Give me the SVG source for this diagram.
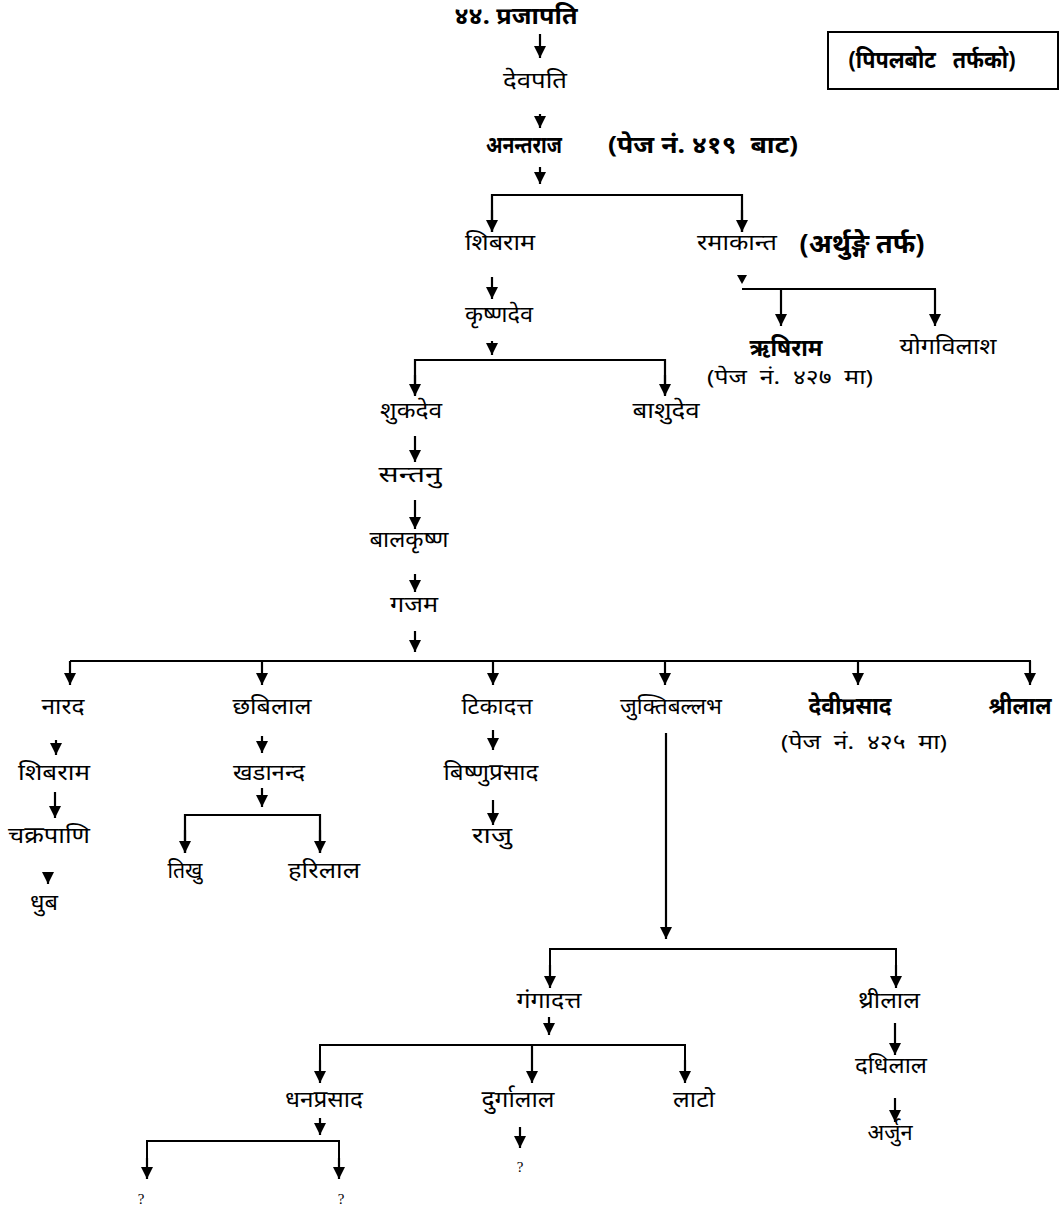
<svg xmlns="http://www.w3.org/2000/svg" width="1062" height="1210" viewBox="0 0 1062 1210">
<style>
text{font-family:"Noto Sans","Noto Sans Devanagari","Liberation Sans",sans-serif;font-size:23px;fill:#000;text-anchor:middle}
.b{font-weight:bold;font-size:24px}
.s{font-size:20px}
.q{font-size:15px;font-family:"Liberation Serif",serif}
.c line,.c path.l{stroke:#000;stroke-width:2.2;fill:none}
.h{stroke-width:2 !important}
</style>
<defs>
<marker id="ah" markerUnits="userSpaceOnUse" markerWidth="14" markerHeight="12" refX="12" refY="6" orient="auto">
<path d="M0,0 L12,6 L0,12 z" fill="#000"/>
</marker>
</defs>
<rect width="1062" height="1210" fill="#fff"/>
<g class="c" id="connectors">
<line x1="540" y1="34" x2="540" y2="58" marker-end="url(#ah)"/>
<line x1="540" y1="114" x2="540" y2="128" marker-end="url(#ah)"/>
<line x1="540" y1="167" x2="540" y2="184" marker-end="url(#ah)"/>
<path class="l" d="M492,232 V195 H742 V232" />
<line x1="492" y1="210" x2="492" y2="232" marker-end="url(#ah)"/>
<line x1="742" y1="210" x2="742" y2="232" marker-end="url(#ah)"/>
<line x1="492" y1="277" x2="492" y2="299" marker-end="url(#ah)"/>
<line x1="492" y1="341" x2="492" y2="355" marker-end="url(#ah)"/>
<path class="l" d="M415,395 V360 H665 V395"/>
<line x1="415" y1="375" x2="415" y2="396" marker-end="url(#ah)"/>
<line x1="665" y1="375" x2="665" y2="396" marker-end="url(#ah)"/>
<path d="M737,275 L747,275 L742,284 z" fill="#000"/>
<line class="h" x1="742" y1="289" x2="936" y2="289"/>
<line x1="781" y1="289" x2="781" y2="326" marker-end="url(#ah)"/>
<line x1="935" y1="289" x2="935" y2="326" marker-end="url(#ah)"/>
<line x1="415" y1="436" x2="415" y2="462" marker-end="url(#ah)"/>
<line x1="415" y1="500" x2="415" y2="529" marker-end="url(#ah)"/>
<line x1="415" y1="574" x2="415" y2="592" marker-end="url(#ah)"/>
<line x1="415" y1="631" x2="415" y2="652" marker-end="url(#ah)"/>
<line class="h" x1="70" y1="661" x2="1031" y2="661"/>
<line x1="70" y1="661" x2="70" y2="685" marker-end="url(#ah)"/>
<line x1="262" y1="661" x2="262" y2="685" marker-end="url(#ah)"/>
<line x1="493" y1="661" x2="493" y2="685" marker-end="url(#ah)"/>
<line x1="665" y1="661" x2="665" y2="685" marker-end="url(#ah)"/>
<line x1="858" y1="661" x2="858" y2="685" marker-end="url(#ah)"/>
<line x1="1030" y1="661" x2="1030" y2="685" marker-end="url(#ah)"/>
<line x1="56" y1="740" x2="56" y2="755" marker-end="url(#ah)"/>
<line x1="55" y1="792" x2="55" y2="818" marker-end="url(#ah)"/>
<line x1="48" y1="872" x2="48" y2="884" marker-end="url(#ah)"/>
<line x1="262" y1="736" x2="262" y2="753" marker-end="url(#ah)"/>
<line x1="262" y1="788" x2="262" y2="807" marker-end="url(#ah)"/>
<path class="l" d="M185,853 V815 H320 V853"/>
<line x1="185" y1="830" x2="185" y2="853" marker-end="url(#ah)"/>
<line x1="320" y1="830" x2="320" y2="853" marker-end="url(#ah)"/>
<line x1="493" y1="730" x2="493" y2="750" marker-end="url(#ah)"/>
<line x1="493" y1="800" x2="493" y2="825" marker-end="url(#ah)"/>
<line x1="666" y1="733" x2="666" y2="939" marker-end="url(#ah)"/>
<path class="l h" d="M550,987 V949 H896 V987"/>
<line x1="550" y1="965" x2="550" y2="988" marker-end="url(#ah)"/>
<line x1="896" y1="965" x2="896" y2="988" marker-end="url(#ah)"/>
<line x1="549" y1="1017" x2="549" y2="1035" marker-end="url(#ah)"/>
<path class="l h" d="M320,1082 V1045 H685 V1082"/>
<line x1="320" y1="1060" x2="320" y2="1083" marker-end="url(#ah)"/>
<line x1="532" y1="1045" x2="532" y2="1083" marker-end="url(#ah)"/>
<line x1="685" y1="1060" x2="685" y2="1083" marker-end="url(#ah)"/>
<line x1="320" y1="1118" x2="320" y2="1135" marker-end="url(#ah)"/>
<path class="l h" d="M147,1178 V1141 H339 V1178"/>
<line x1="147" y1="1158" x2="147" y2="1179" marker-end="url(#ah)"/>
<line x1="339" y1="1158" x2="339" y2="1179" marker-end="url(#ah)"/>
<line x1="520" y1="1127" x2="520" y2="1148" marker-end="url(#ah)"/>
<line x1="895" y1="1023" x2="895" y2="1055" marker-end="url(#ah)"/>
<line x1="895" y1="1098" x2="895" y2="1122" marker-end="url(#ah)"/>
</g>
<g id="n-prajapati"><text class="b" x="516" y="24" textLength="123" lengthAdjust="spacingAndGlyphs">४४. प्रजापति</text></g>
<g id="n-devpati"><text x="535" y="88" textLength="64" lengthAdjust="spacingAndGlyphs">देवपति</text></g>
<g id="n-anantaraj"><text class="b" x="524" y="153" textLength="76" lengthAdjust="spacingAndGlyphs">अनन्तराज</text><text class="b" x="703" y="153" textLength="190" lengthAdjust="spacingAndGlyphs" xml:space="preserve">(पेज नं. ४१९  बाट)</text></g>
<g id="n-note"><rect x="828" y="32" width="230" height="57" fill="none" stroke="#000" stroke-width="2"/><text class="b" x="932" y="68" textLength="167" lengthAdjust="spacingAndGlyphs" xml:space="preserve">(पिपलबोट   तर्फको)</text></g>
<g id="n-shibaram"><text x="500" y="250" textLength="70" lengthAdjust="spacingAndGlyphs">शिबराम</text></g>
<g id="n-ramakant"><text x="737" y="250" textLength="80" lengthAdjust="spacingAndGlyphs">रमाकान्त</text><text class="b" x="862" y="253" style="font-size:27px" textLength="125" lengthAdjust="spacingAndGlyphs">(अर्थुङ्गे तर्फ)</text></g>
<g id="n-krishnadev"><text x="499" y="322" textLength="68" lengthAdjust="spacingAndGlyphs">कृष्णदेव</text></g>
<g id="n-rishiram"><text class="b" x="786" y="356" textLength="73" lengthAdjust="spacingAndGlyphs">ऋषिराम</text><text class="s" x="790" y="384" textLength="166" lengthAdjust="spacingAndGlyphs" xml:space="preserve">(पेज  नं.  ४२७  मा)</text></g>
<g id="n-yogvilash"><text x="948" y="354" textLength="97" lengthAdjust="spacingAndGlyphs">योगविलाश</text></g>
<g id="n-shukdev"><text x="411" y="418" textLength="62" lengthAdjust="spacingAndGlyphs">शुकदेव</text></g>
<g id="n-bashudev"><text x="666" y="418" textLength="67" lengthAdjust="spacingAndGlyphs">बाशुदेव</text></g>
<g id="n-santanu"><text x="410" y="482" textLength="63" lengthAdjust="spacingAndGlyphs">सन्तनु</text></g>
<g id="n-balkrishna"><text x="409" y="547" textLength="79" lengthAdjust="spacingAndGlyphs">बालकृष्ण</text></g>
<g id="n-gajam"><text x="414" y="612" textLength="48" lengthAdjust="spacingAndGlyphs">गजम</text></g>
<g id="n-narad"><text x="63" y="714" textLength="43" lengthAdjust="spacingAndGlyphs">नारद</text></g>
<g id="n-chhabilal"><text x="272" y="714" textLength="79" lengthAdjust="spacingAndGlyphs">छबिलाल</text></g>
<g id="n-tikadatta"><text x="497" y="714" textLength="71" lengthAdjust="spacingAndGlyphs">टिकादत्त</text></g>
<g id="n-juktiballabh"><text x="671" y="714" textLength="102" lengthAdjust="spacingAndGlyphs">जुक्तिबल्लभ</text></g>
<g id="n-deviprasad"><text class="b" x="850" y="714" textLength="83" lengthAdjust="spacingAndGlyphs">देवीप्रसाद</text><text class="s" x="864" y="749" textLength="166" lengthAdjust="spacingAndGlyphs" xml:space="preserve">(पेज  नं.  ४२५  मा)</text></g>
<g id="n-shrilal"><text class="b" x="1020" y="714" textLength="63" lengthAdjust="spacingAndGlyphs">श्रीलाल</text></g>
<g id="n-shibaram2"><text x="54" y="780" textLength="72" lengthAdjust="spacingAndGlyphs">शिबराम</text></g>
<g id="n-chakrapani"><text x="49" y="843" textLength="82" lengthAdjust="spacingAndGlyphs">चक्रपाणि</text></g>
<g id="n-dhub"><text x="44" y="910" textLength="28" lengthAdjust="spacingAndGlyphs">धुब</text></g>
<g id="n-khadananda"><text x="269" y="780" textLength="72" lengthAdjust="spacingAndGlyphs">खडानन्द</text></g>
<g id="n-tikhu"><text x="185" y="878" textLength="35" lengthAdjust="spacingAndGlyphs">तिखु</text></g>
<g id="n-harilal"><text x="324" y="878" textLength="72" lengthAdjust="spacingAndGlyphs">हरिलाल</text></g>
<g id="n-bishnuprasad"><text x="491" y="780" textLength="95" lengthAdjust="spacingAndGlyphs">बिष्णुप्रसाद</text></g>
<g id="n-raju"><text x="492" y="843" textLength="40" lengthAdjust="spacingAndGlyphs">राजु</text></g>
<g id="n-gangadatta"><text x="549" y="1008" textLength="65" lengthAdjust="spacingAndGlyphs">गंगादत्त</text></g>
<g id="n-thrilal"><text x="889" y="1008" textLength="62" lengthAdjust="spacingAndGlyphs">थ्रीलाल</text></g>
<g id="n-dadhilal"><text x="891" y="1073" textLength="72" lengthAdjust="spacingAndGlyphs">दधिलाल</text></g>
<g id="n-arjun"><text x="890" y="1140" textLength="45" lengthAdjust="spacingAndGlyphs">अर्जुन</text></g>
<g id="n-dhanprasad"><text x="324" y="1107" textLength="78" lengthAdjust="spacingAndGlyphs">धनप्रसाद</text></g>
<g id="n-durgalal"><text x="518" y="1107" textLength="73" lengthAdjust="spacingAndGlyphs">दुर्गालाल</text></g>
<g id="n-lato"><text x="694" y="1107" textLength="42" lengthAdjust="spacingAndGlyphs">लाटो</text></g>
<g id="n-q1"><text class="q" x="141" y="1204">?</text></g>
<g id="n-q2"><text class="q" x="341" y="1204">?</text></g>
<g id="n-q3"><text class="q" x="520" y="1172">?</text></g>
</svg>
